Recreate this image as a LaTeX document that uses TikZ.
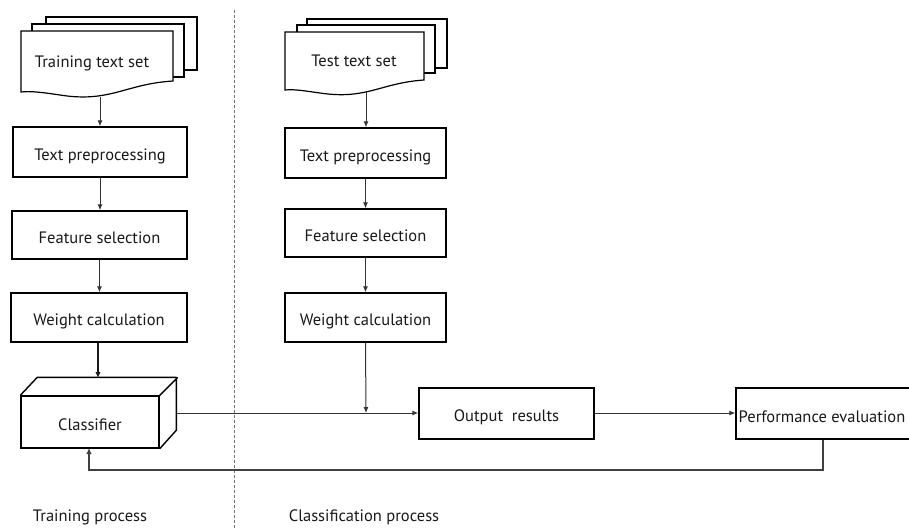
\documentclass[tikz,border=0pt]{standalone}
\usepackage{fontspec}
\setmainfont{PT Sans}
\usetikzlibrary{arrows.meta}
\begin{document}
\begin{tikzpicture}[x=1pt,y=-1pt,
  every node/.style={font=\fontsize{16.5}{18}\selectfont, text=black!90, text height=16pt, text depth=0pt},
  box/.style={draw=black, line width=1.4pt, rectangle, inner sep=0pt, fill=white},
  link/.style={draw=black!80, line width=1pt, -{Latex[length=6pt,width=5pt]}},
  thick link/.style={draw=black!90, line width=1.7pt, -{Latex[length=6pt,width=5.5pt]}},
  docsheet/.style={draw=black, line width=1.2pt, fill=white},
  sep/.style={draw=black!55, line width=1pt, dash pattern=on 3pt off 2pt}]
\useasboundingbox (0,0) rectangle (909,528);

% separator between the two processes
\draw[sep] (234,10) -- (234,528);

% training document stack
\draw[docsheet] (46,17) rectangle (197,70);
\draw[docsheet] (32,24) rectangle (184,77);
\draw[docsheet] (21,31) -- (173,31) -- (173,81)
  .. controls (125,84) and (110,103) .. (60,95)
  .. controls (40,92) and (30,91) .. (21,92) -- cycle;
\node (trainset) at (92,59.5) {Training text set};
\coordinate (trainbot) at (100,97);

% test document stack
\draw[docsheet] (307,19) rectangle (447,68);
\draw[docsheet] (297,25) rectangle (435,73);
\draw[docsheet] (285,32) -- (424,32) -- (424,80)
  .. controls (380,83) and (367,100) .. (320,93)
  .. controls (305,91) and (295,89) .. (285,90) -- cycle;
\node (testset) at (354,58.5) {Test text set};
\coordinate (testbot) at (366,92);

% training column
\node[box, minimum width=174pt, minimum height=50pt] (tp1) at (100,152) {Text preprocessing};
\node[box, minimum width=175pt, minimum height=48pt] (fs1) at (99.5,235) {Feature selection};
\node[box, minimum width=176pt, minimum height=49pt] (wc1) at (99,317.5) {Weight calculation};

% classifier drawn as a box in perspective
\node[box, minimum width=138pt, minimum height=52pt] (cls) at (90,422) {Classifier};
\draw[line width=1.4pt, line join=round]
  (cls.north west) -- ++(17,-18) -- ++(139,0) -- ++(0,53) -- (cls.south east)
  (cls.north east) -- ++(18,-18);
\coordinate (clstop) at (98,378);
\coordinate (clsout) at (177,413);
\coordinate (clsin) at (89,448);

% classification column
\node[box, minimum width=161pt, minimum height=50pt] (tp2) at (365.5,153) {Text preprocessing};
\node[box, minimum width=161pt, minimum height=48pt] (fs2) at (365.5,233) {Feature selection};
\node[box, minimum width=161pt, minimum height=49pt] (wc2) at (365.5,317.5) {Weight calculation};

\node[box, minimum width=175pt, minimum height=51pt] (out) at (506.5,413.5) {Output\ \ results};
\node[box, minimum width=178pt, minimum height=51pt] (perf) at (825,413.5) {};
\node at (822,414) {Performance evaluation};

% connectors
\draw[link] (trainbot) -- (tp1.north -| trainbot);
\draw[link] (tp1.south) -- (fs1.north -| tp1.south);
\draw[link] (fs1.south) -- (wc1.north -| fs1.south);
\draw[thick link] (wc1.south -| clstop) -- (clstop);

\draw[link] (testbot) -- (tp2.north -| testbot);
\draw[link] (tp2.south) -- (fs2.north -| tp2.south);
\draw[link] (fs2.south) -- (wc2.north -| fs2.south);

\coordinate (join) at (366,413);
\draw[link] (wc2.south) -- (join);
\draw[link] (clsout) -- (clsout -| out.west);
\draw[link] (out.east |- clsout) -- (perf.west |- clsout);

\coordinate (fbr) at (823,470);
\draw[draw=black!75, line width=1.4pt, -{Latex[length=6pt,width=5.5pt]}]
  (perf.south -| fbr) -- (fbr) -- (fbr -| clsin) -- (clsin);

% process labels
\node (trainlbl) at (90,513) {Training process};
\node (clslbl) at (364,513) {Classification process};
\end{tikzpicture}
\end{document}
